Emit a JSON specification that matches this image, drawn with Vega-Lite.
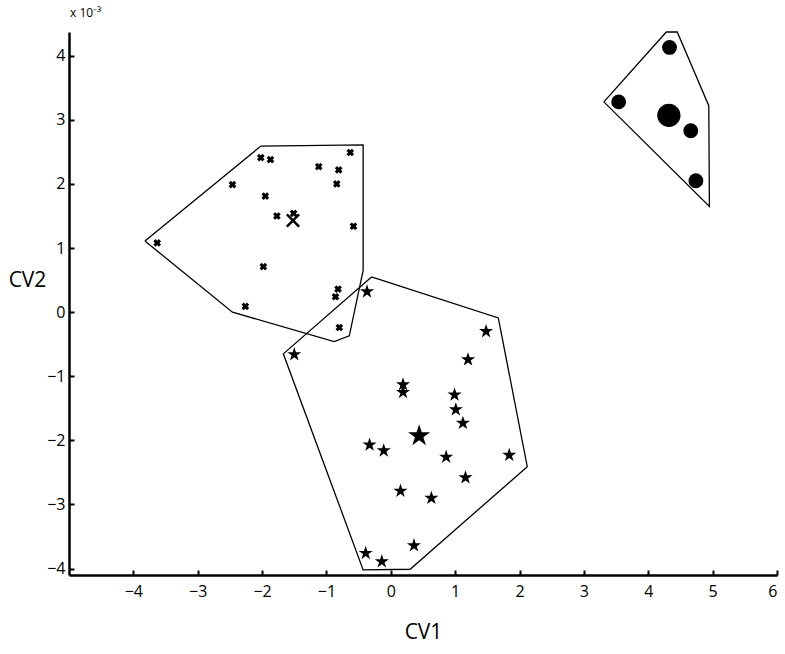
{
  "$schema": "https://vega.github.io/schema/vega-lite/v6.json",
  "width": 708,
  "height": 543,
  "autosize": "none",
  "padding": {"left": 69, "top": 32, "right": 8, "bottom": 79},
  "background": "white",
  "title": {"text": "x 10⁻³", "anchor": "start", "frame": "group", "fontSize": 12, "font": "Open Sans", "fontWeight": "normal", "color": "black", "offset": 9, "dx": 1},
  "config": {"view": {"stroke": null}, "font": "Open Sans"},
  "datasets": {
    "points": [
      {"group": "A", "kind": "member", "cv1": -3.63, "cv2": 1.08},
      {"group": "A", "kind": "member", "cv1": -2.46, "cv2": 1.99},
      {"group": "A", "kind": "member", "cv1": -2.02, "cv2": 2.41},
      {"group": "A", "kind": "member", "cv1": -1.87, "cv2": 2.38},
      {"group": "A", "kind": "member", "cv1": -1.95, "cv2": 1.81},
      {"group": "A", "kind": "member", "cv1": -1.77, "cv2": 1.50},
      {"group": "A", "kind": "member", "cv1": -1.51, "cv2": 1.54},
      {"group": "A", "kind": "member", "cv1": -1.12, "cv2": 2.27},
      {"group": "A", "kind": "member", "cv1": -0.81, "cv2": 2.22},
      {"group": "A", "kind": "member", "cv1": -0.84, "cv2": 2.00},
      {"group": "A", "kind": "member", "cv1": -0.63, "cv2": 2.49},
      {"group": "A", "kind": "member", "cv1": -0.58, "cv2": 1.34},
      {"group": "A", "kind": "member", "cv1": -1.98, "cv2": 0.71},
      {"group": "A", "kind": "member", "cv1": -2.26, "cv2": 0.09},
      {"group": "A", "kind": "member", "cv1": -0.82, "cv2": 0.36},
      {"group": "A", "kind": "member", "cv1": -0.86, "cv2": 0.24},
      {"group": "A", "kind": "member", "cv1": -0.80, "cv2": -0.24},
      {"group": "A", "kind": "centroid", "cv1": -1.52, "cv2": 1.43},
      {"group": "B", "kind": "member", "cv1": -0.37, "cv2": 0.32},
      {"group": "B", "kind": "member", "cv1": -1.50, "cv2": -0.66},
      {"group": "B", "kind": "member", "cv1": 1.48, "cv2": -0.30},
      {"group": "B", "kind": "member", "cv1": 1.20, "cv2": -0.74},
      {"group": "B", "kind": "member", "cv1": 0.19, "cv2": -1.13},
      {"group": "B", "kind": "member", "cv1": 0.19, "cv2": -1.25},
      {"group": "B", "kind": "member", "cv1": 0.99, "cv2": -1.29},
      {"group": "B", "kind": "member", "cv1": 1.01, "cv2": -1.52},
      {"group": "B", "kind": "member", "cv1": 1.12, "cv2": -1.73},
      {"group": "B", "kind": "member", "cv1": -0.33, "cv2": -2.07},
      {"group": "B", "kind": "member", "cv1": -0.11, "cv2": -2.16},
      {"group": "B", "kind": "member", "cv1": 0.86, "cv2": -2.26},
      {"group": "B", "kind": "member", "cv1": 1.84, "cv2": -2.23},
      {"group": "B", "kind": "member", "cv1": 1.16, "cv2": -2.58},
      {"group": "B", "kind": "member", "cv1": 0.15, "cv2": -2.79},
      {"group": "B", "kind": "member", "cv1": 0.63, "cv2": -2.90},
      {"group": "B", "kind": "member", "cv1": 0.36, "cv2": -3.64},
      {"group": "B", "kind": "member", "cv1": -0.39, "cv2": -3.76},
      {"group": "B", "kind": "member", "cv1": -0.14, "cv2": -3.89},
      {"group": "B", "kind": "centroid", "cv1": 0.44, "cv2": -1.93},
      {"group": "C", "kind": "member", "cv1": 4.33, "cv2": 4.13},
      {"group": "C", "kind": "member", "cv1": 3.54, "cv2": 3.28},
      {"group": "C", "kind": "member", "cv1": 4.66, "cv2": 2.83},
      {"group": "C", "kind": "member", "cv1": 4.74, "cv2": 2.05},
      {"group": "C", "kind": "centroid", "cv1": 4.32, "cv2": 3.07}
    ],
    "hull": [
      {"group": "A", "ord": 0, "cv1": -3.82, "cv2": 1.11},
      {"group": "A", "ord": 1, "cv1": -2.02, "cv2": 2.59},
      {"group": "A", "ord": 2, "cv1": -0.43, "cv2": 2.61},
      {"group": "A", "ord": 3, "cv1": -0.43, "cv2": 0.65},
      {"group": "A", "ord": 4, "cv1": -0.645, "cv2": -0.37},
      {"group": "A", "ord": 5, "cv1": -0.88, "cv2": -0.46},
      {"group": "A", "ord": 6, "cv1": -2.46, "cv2": 0.0},
      {"group": "A", "ord": 7, "cv1": -3.82, "cv2": 1.11},
      {"group": "B", "ord": 0, "cv1": -0.30, "cv2": 0.55},
      {"group": "B", "ord": 1, "cv1": 1.67, "cv2": -0.09},
      {"group": "B", "ord": 2, "cv1": 2.12, "cv2": -2.41},
      {"group": "B", "ord": 3, "cv1": 0.30, "cv2": -4.01},
      {"group": "B", "ord": 4, "cv1": -0.43, "cv2": -4.02},
      {"group": "B", "ord": 5, "cv1": -1.67, "cv2": -0.65},
      {"group": "B", "ord": 6, "cv1": -0.30, "cv2": 0.55},
      {"group": "C", "ord": 0, "cv1": 3.31, "cv2": 3.28},
      {"group": "C", "ord": 1, "cv1": 4.28, "cv2": 4.37},
      {"group": "C", "ord": 2, "cv1": 4.45, "cv2": 4.37},
      {"group": "C", "ord": 3, "cv1": 4.94, "cv2": 3.22},
      {"group": "C", "ord": 4, "cv1": 4.95, "cv2": 1.65},
      {"group": "C", "ord": 5, "cv1": 3.31, "cv2": 3.28}
    ]
  },
  "encoding": {
    "x": {"field": "cv1", "type": "quantitative", "scale": {"domain": [-5, 6], "nice": false, "zero": false},
      "axis": {"title": "CV1", "values": [-4, -3, -2, -1, 0, 1, 2, 3, 4, 5, 6], "grid": false,
        "domainColor": "black", "domainWidth": 2.5, "tickColor": "black", "tickWidth": 2, "tickSize": -5,
        "labelPadding": 13, "labelFontSize": 16, "labelColor": "black", "labelFont": "Open Sans",
        "titleFontSize": 21, "titleFontWeight": "normal", "titleColor": "black", "titleFont": "Open Sans", "titlePadding": 22}},
    "y": {"field": "cv2", "type": "quantitative", "scale": {"domain": [-4.1, 4.37], "nice": false, "zero": false},
      "axis": {"title": "CV2", "values": [-4, -3, -2, -1, 0, 1, 2, 3, 4], "grid": false,
        "domainColor": "black", "domainWidth": 2.5, "tickColor": "black", "tickWidth": 2, "tickSize": -5,
        "labelPadding": 9, "labelFontSize": 16, "labelColor": "black", "labelFont": "Open Sans",
        "titleFontSize": 21, "titleFontWeight": "normal", "titleColor": "black", "titleFont": "Open Sans",
        "titleAngle": 0, "titleAlign": "center", "titleBaseline": "middle", "titleX": -42, "titleY": 248}}
  },
  "layer": [
    {
      "data": {"name": "hull"},
      "mark": {"type": "line", "color": "black", "strokeWidth": 1.3, "clip": false},
      "encoding": {"detail": {"field": "group"}, "order": {"field": "ord", "type": "quantitative"}}
    },
    {
      "data": {"name": "points"},
      "transform": [{"filter": "datum.group === 'A' && datum.kind === 'member'"}],
      "mark": {"type": "point", "shape": "cross", "angle": 45, "filled": true, "color": "black", "opacity": 1, "size": 60}
    },
    {
      "data": {"name": "points"},
      "transform": [{"filter": "datum.group === 'A' && datum.kind === 'centroid'"}],
      "mark": {"type": "point", "shape": "M-1,-1L1,1M-1,1L1,-1", "filled": false, "stroke": "black", "strokeWidth": 2.5, "opacity": 1, "size": 150}
    },
    {
      "data": {"name": "points"},
      "transform": [{"filter": "datum.group === 'B'"}],
      "mark": {"type": "point", "shape": "M0,-1L0.2245,-0.309L0.951,-0.309L0.363,0.118L0.588,0.809L0,0.382L-0.588,0.809L-0.363,0.118L-0.951,-0.309L-0.2245,-0.309Z", "filled": true, "color": "black", "opacity": 1},
      "encoding": {"size": {"field": "kind", "type": "nominal", "scale": {"domain": ["member", "centroid"], "range": [220, 540]}, "legend": null}}
    },
    {
      "data": {"name": "points"},
      "transform": [{"filter": "datum.group === 'C'"}],
      "mark": {"type": "point", "shape": "circle", "filled": true, "color": "black", "opacity": 1},
      "encoding": {"size": {"field": "kind", "type": "nominal", "scale": {"domain": ["member", "centroid"], "range": [85, 300]}, "legend": null}}
    }
  ]
}
